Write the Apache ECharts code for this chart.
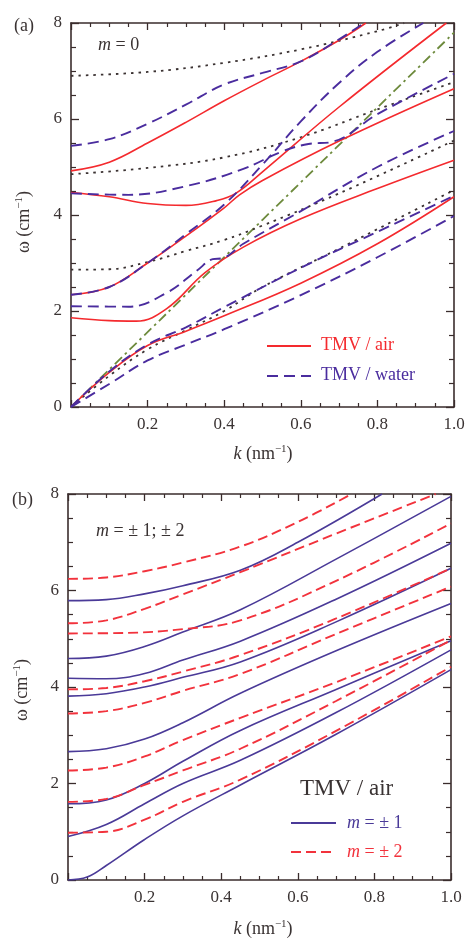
<!DOCTYPE html>
<html><head><meta charset="utf-8">
<script src="https://cdn.jsdelivr.net/npm/echarts@6/dist/echarts.min.js"></script>
<style>html,body{margin:0;padding:0;background:#fff}#c{width:468px;height:943px}</style>
</head><body><div id="c"></div>
<script>
// ---------- Panel (a): m = 0 ----------
const xTicks = [0.2, 0.4, 0.6, 0.8, 1.0];
const yTicks = [0, 2, 4, 6, 8];
// TMV / air (solid red)
const aAir1 = [[0,0],[0.1,0.72],[0.2,1.28],[0.3,1.58],[0.4,1.9],[0.6,2.58],[0.8,3.4],[1.0,4.38]];
const aAir2 = [[0,1.86],[0.1,1.8],[0.17,1.79],[0.25,2.05],[0.35,2.8],[0.45,3.33],[0.6,3.92],[0.8,4.55],[1.0,5.14]];
const aAir3 = [[0,2.34],[0.1,2.5],[0.2,3.0],[0.3,3.56],[0.4,4.15],[0.44,4.42],[0.5,4.72],[0.7,5.54],[1.0,6.63]];
const aAir4 = [[0,4.47],[0.1,4.38],[0.2,4.24],[0.3,4.2],[0.38,4.3],[0.43,4.45],[0.5,4.9],[0.7,6.25],[0.98,8.0]];
const aAir5 = [[0,4.92],[0.1,5.1],[0.2,5.5],[0.3,5.93],[0.4,6.38],[0.5,6.8],[0.6,7.2],[0.7,7.64],[0.77,8.0]];
// TMV / water (blue dashed)
const aWat1 = [[0,0],[0.1,0.48],[0.2,0.97],[0.3,1.3],[0.4,1.62],[0.6,2.33],[0.8,3.12],[1.0,3.98]];
const aWat2 = [[0,0],[0.1,0.74],[0.2,1.3],[0.3,1.66],[0.4,2.08],[0.6,2.9],[0.8,3.65],[1.0,4.4]];
const aWat3 = [[0,2.1],[0.15,2.09],[0.25,2.38],[0.33,2.85],[0.37,3.08],[0.395,3.1],[0.45,3.4],[0.6,4.08],[0.8,5.0],[1.0,5.75]];
const aWat4 = [[0,4.45],[0.15,4.42],[0.3,4.6],[0.45,4.96],[0.55,5.32],[0.62,5.48],[0.68,5.52],[0.8,6.1],[1.0,6.94]];
const aWat5 = [[0,2.34],[0.1,2.5],[0.2,3.0],[0.3,3.6],[0.4,4.22],[0.5,5.05],[0.6,5.95],[0.7,6.75],[0.8,7.4],[0.92,8.0]];
const aWat6 = [[0,5.44],[0.1,5.58],[0.2,5.9],[0.3,6.3],[0.4,6.72],[0.5,6.96],[0.6,7.2],[0.7,7.66],[0.765,8.0]];
// dotted reference curves
const aDot1 = [[0,0],[0.1,0.65],[0.2,1.2],[0.3,1.6],[0.4,2.0],[0.5,2.5],[0.7,3.3],[1.0,4.52]];
const aDot2 = [[0,2.86],[0.1,2.87],[0.2,3.02],[0.3,3.25],[0.4,3.48],[0.5,3.78],[0.7,4.45],[1.0,5.55]];
const aDot3 = [[0,4.85],[0.2,4.98],[0.4,5.2],[0.6,5.62],[0.8,6.2],[1.0,6.77]];
const aDot4 = [[0,6.9],[0.2,6.98],[0.4,7.17],[0.6,7.45],[0.8,7.83],[0.87,8.0]];
// light line (green dash-dot)
const aLight = [[0,0],[1.0,7.8]];

// ---------- Panel (b): m = ±1; ±2, TMV / air ----------
const bM1_1 = [[0,0],[0.05,0.06],[0.1,0.3],[0.2,0.84],[0.3,1.33],[0.45,1.97],[0.7,3.02],[1.0,4.36]];
const bM1_2 = [[0,0.9],[0.1,1.15],[0.2,1.58],[0.3,2.0],[0.45,2.48],[0.7,3.47],[1.0,4.77]];
const bM1_3 = [[0,1.58],[0.1,1.66],[0.2,2.0],[0.3,2.46],[0.45,3.1],[0.7,3.95],[1.0,4.96]];
const bM1_4 = [[0,2.66],[0.1,2.72],[0.2,2.92],[0.3,3.26],[0.45,3.87],[0.7,4.75],[1.0,5.73]];
const bM1_5 = [[0,3.81],[0.1,3.86],[0.2,4.0],[0.3,4.2],[0.45,4.52],[0.7,5.35],[1.0,6.46]];
const bM1_6 = [[0,4.18],[0.1,4.17],[0.2,4.28],[0.3,4.56],[0.45,4.95],[0.7,5.82],[1.0,6.98]];
const bM1_7 = [[0,4.59],[0.1,4.64],[0.2,4.84],[0.3,5.14],[0.45,5.6],[0.7,6.65],[1.0,7.95]];
const bM1_8 = [[0,5.79],[0.1,5.81],[0.2,5.93],[0.3,6.1],[0.45,6.42],[0.6,7.0],[0.82,8.0]];
const bM2_1 = [[0,0.98],[0.1,1.0],[0.2,1.25],[0.3,1.62],[0.45,2.08],[0.7,3.09],[1.0,4.42]];
const bM2_2 = [[0,1.62],[0.1,1.68],[0.2,1.97],[0.3,2.27],[0.45,2.72],[0.7,3.71],[1.0,4.97]];
const bM2_3 = [[0,2.27],[0.1,2.33],[0.2,2.56],[0.3,2.9],[0.45,3.36],[0.7,4.1],[1.0,5.05]];
const bM2_4 = [[0,3.45],[0.1,3.5],[0.2,3.67],[0.3,3.92],[0.45,4.27],[0.7,5.1],[1.0,6.08]];
const bM2_5 = [[0,3.95],[0.1,3.98],[0.2,4.12],[0.3,4.32],[0.45,4.66],[0.7,5.42],[1.0,6.46]];
const bM2_6 = [[0,5.11],[0.15,5.12],[0.3,5.2],[0.45,5.38],[0.7,6.2],[1.0,7.39]];
const bM2_7 = [[0,5.32],[0.1,5.38],[0.2,5.62],[0.3,5.92],[0.45,6.38],[0.7,7.18],[0.96,8.0]];
const bM2_8 = [[0,6.24],[0.1,6.27],[0.2,6.4],[0.3,6.58],[0.45,6.91],[0.6,7.42],[0.74,8.0]];

// ---------- styling ----------
const FONT = "'Liberation Serif', 'DejaVu Serif', serif";
const AX = '#3a2c2c';
const RED = '#f42a2e';
const BLUE = '#4a2c9e';
const DOT = '#3b3232';
const GREEN = '#6d8a3c';
const PURP = '#4a3a98';
const RED2 = '#f2323c';

function xAx(g, pos) {
  return {
    gridIndex: g, type: 'value', min: 0, max: 1, interval: 0.2, position: pos,
    axisLine: { show: true, onZero: false, lineStyle: { color: AX, width: 1.6 } },
    axisTick: { show: true, inside: true, length: 7, lineStyle: { color: AX, width: 1.3 } },
    minorTick: { show: true, splitNumber: 4, length: 4, lineStyle: { color: AX, width: 1.2 } },
    splitLine: { show: false },
    axisLabel: {
      show: pos === 'bottom', margin: 9, fontFamily: FONT, fontSize: 17, color: '#3a3333',
      formatter: v => (xTicks.some(t => Math.abs(t - v) < 1e-6) ? v.toFixed(1) : '')
    }
  };
}
function yAx(g, pos) {
  return {
    gridIndex: g, type: 'value', min: 0, max: 8, interval: 2, position: pos,
    axisLine: { show: true, onZero: false, lineStyle: { color: AX, width: 1.6 } },
    axisTick: { show: true, inside: true, length: 8, lineStyle: { color: AX, width: 1.3 } },
    minorTick: { show: true, splitNumber: 4, length: 5, lineStyle: { color: AX, width: 1.2 } },
    splitLine: { show: false },
    axisLabel: {
      show: pos === 'left', margin: 9, fontFamily: FONT, fontSize: 17, color: '#3a3333',
      formatter: v => (yTicks.indexOf(v) >= 0 ? String(v) : '')
    }
  };
}
function line(data, ax, color, type, width, z) {
  return {
    type: 'line', data: data, xAxisIndex: ax, yAxisIndex: ax, symbol: 'none',
    smooth: 0.4, silent: true, z: z || 2,
    lineStyle: { color: color, width: width, type: type }
  };
}
const DASH_W = [11, 6];
const DOTS = [2.5, 5];
const DASHDOT = [10, 4, 2.5, 4];
const DASH_B = [10, 5];

const series = [
  line(aLight, 0, GREEN, DASHDOT, 1.8, 1),
  line(aDot1, 0, DOT, DOTS, 1.8, 1), line(aDot2, 0, DOT, DOTS, 1.8, 1),
  line(aDot3, 0, DOT, DOTS, 1.8, 1), line(aDot4, 0, DOT, DOTS, 1.8, 1),
  line(aAir1, 0, RED, 'solid', 1.6, 2), line(aAir2, 0, RED, 'solid', 1.6, 2),
  line(aAir3, 0, RED, 'solid', 1.6, 2), line(aAir4, 0, RED, 'solid', 1.6, 2),
  line(aAir5, 0, RED, 'solid', 1.6, 2),
  line(aWat1, 0, BLUE, DASH_W, 1.9, 3), line(aWat2, 0, BLUE, DASH_W, 1.9, 3),
  line(aWat3, 0, BLUE, DASH_W, 1.9, 3), line(aWat4, 0, BLUE, DASH_W, 1.9, 3),
  line(aWat5, 0, BLUE, DASH_W, 1.9, 3), line(aWat6, 0, BLUE, DASH_W, 1.9, 3)
];
[bM1_1, bM1_2, bM1_3, bM1_4, bM1_5, bM1_6, bM1_7, bM1_8].forEach(d => series.push(line(d, 2, PURP, 'solid', 1.6, 2)));
[bM2_1, bM2_2, bM2_3, bM2_4, bM2_5, bM2_6, bM2_7, bM2_8].forEach(d => series.push(line(d, 2, RED2, DASH_B, 1.9, 3)));

function txt(x, y, text, size, color, extra) {
  return {
    type: 'text', x: x, y: y, silent: true, z: 10,
    style: Object.assign({ text: text, font: size + 'px ' + FONT, fill: color, align: 'left', verticalAlign: 'middle' }, extra || {})
  };
}
const supRich = (size) => ({
  i: { fontFamily: FONT, fontStyle: 'italic', fontSize: size, fill: '#3a3333' },
  n: { fontFamily: FONT, fontSize: size, fill: '#3a3333' },
  s: { fontFamily: FONT, fontSize: Math.round(size * 0.62), fill: '#3a3333', verticalAlign: 'top', lineHeight: size * 1.2 }
});
function richTxt(x, y, text, size, rot) {
  return {
    type: 'text', x: x, y: y, rotation: rot || 0, silent: true, z: 10,
    style: { text: text, rich: supRich(size), fontFamily: FONT, fontSize: size, fill: '#3a3333', align: 'center', verticalAlign: 'middle' }
  };
}
function seg(x1, y1, x2, y2, color, dash, w) {
  return { type: 'line', silent: true, z: 10, shape: { x1: x1, y1: y1, x2: x2, y2: y2 },
    style: { stroke: color, lineWidth: w, lineDash: dash || null } };
}

const graphic = [
  txt(14, 26, '(a)', 18, '#3a3333'),
  txt(12, 500, '(b)', 18, '#3a3333'),
  richTxt(263, 454, '{i|k}{n| (nm}{s|−1}{n|)}', 18, 0),
  richTxt(263, 929, '{i|k}{n| (nm}{s|−1}{n|)}', 18, 0),
  richTxt(24, 222, '{n|ω (cm}{s|−1}{n|)}', 18, Math.PI / 2),
  richTxt(22, 690, '{n|ω (cm}{s|−1}{n|)}', 18, Math.PI / 2),
  { type: 'text', x: 98, y: 45, silent: true, z: 10, style: { text: '{i|m}{n| = 0}', rich: supRich(18), verticalAlign: 'middle' } },
  { type: 'text', x: 96, y: 531, silent: true, z: 10, style: { text: '{i|m}{n| = ± 1; ± 2}', rich: supRich(18), verticalAlign: 'middle' } },
  // legend (a)
  seg(267, 346, 311, 346, RED, null, 1.8),
  txt(321, 345, 'TMV / air', 18, RED),
  seg(267, 376, 311, 376, BLUE, [11, 6], 1.9),
  txt(321, 375, 'TMV / water', 18, BLUE),
  // legend (b)
  txt(300, 789, 'TMV / air', 23, '#3a3333'),
  seg(291, 823, 336, 823, PURP, null, 1.8),
  { type: 'text', x: 347, y: 823, silent: true, z: 10, style: { text: '{i|m}{n| = ± 1}', rich: {
      i: { fontFamily: FONT, fontStyle: 'italic', fontSize: 18, fill: PURP }, n: { fontFamily: FONT, fontSize: 18, fill: PURP } }, verticalAlign: 'middle' } },
  seg(291, 852, 336, 852, RED2, [10, 5], 1.9),
  { type: 'text', x: 347, y: 852, silent: true, z: 10, style: { text: '{i|m}{n| = ± 2}', rich: {
      i: { fontFamily: FONT, fontStyle: 'italic', fontSize: 18, fill: RED2 }, n: { fontFamily: FONT, fontSize: 18, fill: RED2 } }, verticalAlign: 'middle' } }
];

const chart = echarts.init(document.getElementById('c'), null, { renderer: 'canvas' });
chart.setOption({
  animation: false,
  backgroundColor: '#ffffff',
  grid: [
    { left: 71, top: 23, width: 383, height: 384 },
    { left: 68, top: 494, width: 383, height: 386 }
  ],
  xAxis: [xAx(0, 'bottom'), xAx(0, 'top'), xAx(1, 'bottom'), xAx(1, 'top')],
  yAxis: [yAx(0, 'left'), yAx(0, 'right'), yAx(1, 'left'), yAx(1, 'right')],
  series: series,
  graphic: graphic
});
</script>
</body></html>
